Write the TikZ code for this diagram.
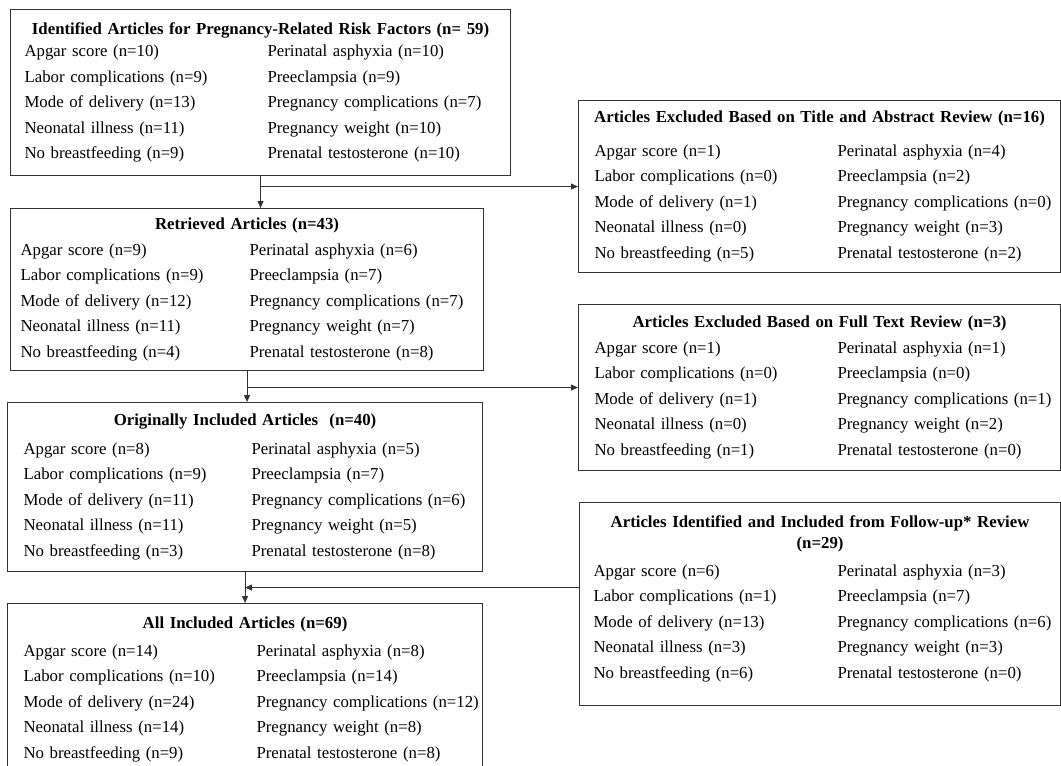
\documentclass[tikz,border=0pt]{standalone}
\usepackage{fontspec}
\setmainfont{Liberation Serif}
\usetikzlibrary{arrows.meta,calc}

% one row of a panel: left entry in a column of width \colw
\newcommand{\pair}[2]{\makebox[\linewidth][l]{\makebox[\colw][l]{#1}#2}}

\begin{document}
\begin{tikzpicture}[x=1pt, y=-1pt,
  panel/.style={rectangle, draw=black!80, line width=1.1pt,
                anchor=north west, align=center, inner ysep=0pt,
                font=\fontsize{16.8}{25.5}\selectfont},
  arr/.style={-{Triangle[length=7pt,width=6pt]}, line width=1pt, black!80}
]
\useasboundingbox (0,0) rectangle (1061,766);
\clip (0,0) rectangle (1061,766);

\node[panel, inner xsep=14pt, text width=472pt, minimum height=166pt] (ident) at (10,9) {\def\colw{243pt}%
  \textbf{Identified Articles for Pregnancy-Related Risk Factors (n= 59)}\\[-3pt]
  \pair{Apgar score (n=10)}{Perinatal asphyxia (n=10)}\\
  \pair{Labor complications (n=9)}{Preeclampsia (n=9)}\\
  \pair{Mode of delivery (n=13)}{Pregnancy complications (n=7)}\\
  \pair{Neonatal illness (n=11)}{Pregnancy weight (n=10)}\\
  \pair{No breastfeeding (n=9)}{Prenatal testosterone (n=10)}};

\node[panel, inner xsep=10pt, text width=453pt, minimum height=162pt] (retr) at (10,208) {\def\colw{229pt}%
  \textbf{Retrieved Articles (n=43)}\\
  \pair{Apgar score (n=9)}{Perinatal asphyxia (n=6)}\\
  \pair{Labor complications (n=9)}{Preeclampsia (n=7)}\\
  \pair{Mode of delivery (n=12)}{Pregnancy complications (n=7)}\\
  \pair{Neonatal illness (n=11)}{Pregnancy weight (n=7)}\\
  \pair{No breastfeeding (n=4)}{Prenatal testosterone (n=8)}};

\node[panel, inner xsep=16pt, text width=443pt, minimum height=169pt] (orig) at (7,402) {\def\colw{228pt}%
  \textbf{Originally Included Articles \ (n=40)}\\[3pt]
  \pair{Apgar score (n=8)}{Perinatal asphyxia (n=5)}\\
  \pair{Labor complications (n=9)}{Preeclampsia (n=7)}\\
  \pair{Mode of delivery (n=11)}{Pregnancy complications (n=6)}\\
  \pair{Neonatal illness (n=11)}{Pregnancy weight (n=5)}\\
  \pair{No breastfeeding (n=3)}{Prenatal testosterone (n=8)}};

\node[panel, inner xsep=16pt, text width=443pt, minimum height=172pt] (all) at (7,603) {\def\colw{233pt}%
  \textbf{All Included Articles (n=69)}\\[2pt]
  \pair{Apgar score (n=14)}{Perinatal asphyxia (n=8)}\\
  \pair{Labor complications (n=10)}{Preeclampsia (n=14)}\\
  \pair{Mode of delivery (n=24)}{Pregnancy complications (n=12)}\\
  \pair{Neonatal illness (n=14)}{Pregnancy weight (n=8)}\\
  \pair{No breastfeeding (n=9)}{Prenatal testosterone (n=8)}};

\node[panel, inner xsep=16pt, text width=450pt, minimum height=172pt] (exta) at (578,100) {\def\colw{243pt}%
  \makebox[\linewidth]{\textbf{Articles Excluded Based on Title and Abstract Review (n=16)}}\\[8pt]
  \pair{Apgar score (n=1)}{Perinatal asphyxia (n=4)}\\
  \pair{Labor complications (n=0)}{Preeclampsia (n=2)}\\
  \pair{Mode of delivery (n=1)}{Pregnancy complications (n=0)}\\
  \pair{Neonatal illness (n=0)}{Pregnancy weight (n=3)}\\
  \pair{No breastfeeding (n=5)}{Prenatal testosterone (n=2)}};

\node[panel, inner xsep=16pt, text width=450pt, minimum height=166pt] (extb) at (578,304) {\def\colw{243pt}%
  \textbf{Articles Excluded Based on Full Text Review (n=3)}\\
  \pair{Apgar score (n=1)}{Perinatal asphyxia (n=1)}\\
  \pair{Labor complications (n=0)}{Preeclampsia (n=0)}\\
  \pair{Mode of delivery (n=1)}{Pregnancy complications (n=1)}\\
  \pair{Neonatal illness (n=0)}{Pregnancy weight (n=2)}\\
  \pair{No breastfeeding (n=1)}{Prenatal testosterone (n=0)}};

\node[panel, inner xsep=14pt, text width=453pt, minimum height=203pt] (follow) at (579,502) {\def\colw{244pt}%
  \textbf{Articles Identified and Included from Follow-up* Review}\\[-4pt]
  \textbf{(n=29)}\\[2pt]
  \pair{Apgar score (n=6)}{Perinatal asphyxia (n=3)}\\
  \pair{Labor complications (n=1)}{Preeclampsia (n=7)}\\
  \pair{Mode of delivery (n=13)}{Pregnancy complications (n=6)}\\
  \pair{Neonatal illness (n=3)}{Pregnancy weight (n=3)}\\
  \pair{No breastfeeding (n=6)}{Prenatal testosterone (n=0)}\rule[-14pt]{0pt}{0pt}};

\coordinate (join) at ($(orig.south)!0.5!(all.north)$);

\draw[arr] (ident.south) -- (ident.south |- retr.north);
\draw[arr] (ident.south |- exta.west) -- (exta.west);
\draw[arr] (retr.south) -- (retr.south |- orig.north);
\draw[arr] (retr.south |- extb.west) -- (extb.west);
\draw[arr] (orig.south) -- (all.north);
\draw[arr] (join -| follow.west) -- (join);

\end{tikzpicture}
\end{document}
